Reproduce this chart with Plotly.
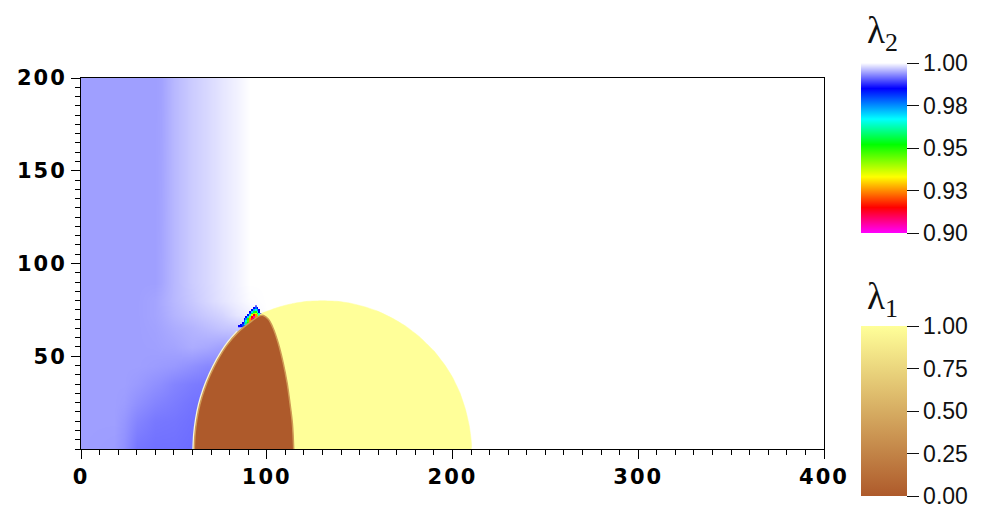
import plotly.graph_objects as go

# lambda_2 field (rows = field_y, columns = field_x)
field_x = [0, 18, 23, 30, 40, 43, 50, 60, 68, 76, 84, 91, 100, 400]
field_y = [0, 15, 25, 35, 45, 55, 65, 72, 80, 90, 200]
field_z = [
    [.99435, .99418, .99347, .99190, .99159, .99159, .99159, .99135, .99135, .99135, .99135, .99135, 1.0, 1.0],
    [.99435, .99435, .99382, .99276, .99206, .99200, .99190, .99159, .99159, .99159, .99159, .99159, 1.0, 1.0],
    [.99435, .99435, .99418, .99347, .99276, .99260, .99229, .99182, .99159, .99159, .99159, .99159, 1.0, 1.0],
    [.99435, .99435, .99435, .99406, .99347, .99330, .99276, .99229, .99206, .99206, .99206, .99206, 1.0, 1.0],
    [.99435, .99435, .99435, .99435, .99418, .99410, .99394, .99347, .99300, .99300, .99300, .99300, 1.0, 1.0],
    [.99435, .99435, .99435, .99435, .99441, .99450, .99465, .99512, .99488, .99441, .99441, .99441, 1.0, 1.0],
    [.99435, .99435, .99435, .99435, .99453, .99470, .99512, .99559, .99606, .99653, .99676, .99676, 1.0, 1.0],
    [.99435, .99435, .99435, .99435, .99465, .99490, .99559, .99629, .99688, .99747, .99853, .99912, 1.0, 1.0],
    [.99435, .99435, .99435, .99435, .99465, .99500, .99582, .99676, .99759, .99841, .99912, .99982, 1.0, 1.0],
    [.99435, .99435, .99435, .99435, .99435, .99470, .99582, .99700, .99770, .99853, .99924, 1.0, 1.0, 1.0],
    [.99435, .99435, .99435, .99435, .99435, .99450, .99582, .99700, .99770, .99853, .99924, 1.0, 1.0, 1.0],
]

# small rainbow wedge above the tip of the bubble (columns 84..97, rows 66..77)
wedge_x = list(range(84, 98))
wedge_y = list(range(66, 78))
N = None
wedge_z = [
    [N, .985, .985, .980, .980, N, N, N, N, N, N, N, N, N],
    [N, N, .985, .980, .970, .970, .975, N, N, N, N, N, N, N],
    [N, N, N, .985, .975, .960, .950, .950, .960, N, N, N, N, N],
    [N, N, N, N, .980, .965, .945, .925, .925, .940, .960, N, N, N],
    [N, N, N, N, .985, .975, .950, .925, .910, .915, .940, .960, N, N],
    [N, N, N, N, N, .985, .970, .940, .915, .905, .925, .950, .970, N],
    [N, N, N, N, N, N, .985, .965, .935, .915, .925, .940, .965, .985],
    [N, N, N, N, N, N, N, .980, .955, .940, .935, .950, .965, .985],
    [N, N, N, N, N, N, N, .985, .970, .955, .950, .965, .985, N],
    [N, N, N, N, N, N, N, N, .985, .972, .965, .975, .985, N],
    [N, N, N, N, N, N, N, N, N, .985, .978, .985, N, N],
    [N, N, N, N, N, N, N, N, N, N, .990, N, N, N],
]

# lambda_1 = 1 region (yellow): outer arc from the tip to the axis
arc_x = [96.4, 100, 105, 110, 115, 122, 130, 138, 145, 153, 160, 168, 175, 182, 190, 196, 200, 204, 207, 209, 210]
arc_y = [72.6, 74.2, 76.0, 77.5, 78.6, 79.6, 79.9, 79.6, 78.6, 76.6, 74.2, 70.3, 66.1, 60.7, 52.9, 45.1, 38.7, 30.3, 21.3, 12.6, 0]

# lambda_1 = 0 region (brown): left interface bottom to tip, right interface tip to bottom
left_x = [61.0, 61.4, 62.4, 64.0, 66.4, 69.6, 73.6, 78.6, 84.6, 90.6, 96.4]
left_y = [0, 8, 16, 24, 32, 40, 48, 56, 63, 68, 71.9]
right_x = [98.2, 100.9, 103.5, 106.2, 108.9, 111, 112.5, 113.8, 114.5]
right_y = [72, 69.9, 65, 57, 46.2, 35.4, 24.6, 13.8, 0]

# samples that carry the lambda_1 colour bar
lambda1_x = [90, 150]
lambda1_y = [30, 30]
lambda1_v = [0, 1]

x_major = [0, 100, 200, 300, 400]
y_major = [50, 100, 150, 200]
lam2_ticks = [0.9, 0.925, 0.95, 0.975, 1.0]
lam2_text = ["0.90", "0.93", "0.95", "0.98", "1.00"]
lam1_ticks = [0, 0.25, 0.5, 0.75, 1.0]
lam1_text = ["0.00", "0.25", "0.50", "0.75", "1.00"]

W, H = 1003, 512
L, R, T, B = 81, 824, 78, 449
PW, PH = R - L, B - T
tickfont = dict(family="DejaVu Sans", size=21, color="#000000", weight=700)
barfont = dict(family="Liberation Sans", size=23, color="#111111")
titlefont = dict(family="Liberation Serif", size=37, color="#111111")

fig = go.Figure()
fig.add_trace(go.Heatmap(x=field_x, y=field_y, z=field_z, coloraxis="coloraxis", zsmooth="best", hoverinfo="skip"))
fig.add_trace(go.Heatmap(x=wedge_x, y=wedge_y, z=wedge_z, coloraxis="coloraxis", zsmooth=False, hoverongaps=False))
fig.add_trace(go.Scatter(x=arc_x + [114.5, 96.4], y=arc_y + [0, 72.6], mode="lines", fill="toself",
                         fillcolor="#ffff99", line=dict(color="#ffff99", width=0.5, shape="spline", smoothing=0.3),
                         hoverinfo="skip"))
fig.add_trace(go.Scatter(x=left_x[:-2], y=left_y[:-2], mode="lines",
                         line=dict(color="#fbf7d8", width=4, shape="spline", smoothing=1), hoverinfo="skip"))
fig.add_trace(go.Scatter(x=left_x + right_x, y=left_y + right_y, mode="lines", fill="toself",
                         fillcolor="#ae5a2b", line=dict(color="#cf9a55", width=1.5, shape="spline", smoothing=1),
                         hoverinfo="skip"))
fig.add_trace(go.Scatter(x=lambda1_x, y=lambda1_y, mode="markers", hoverinfo="skip",
                         marker=dict(size=1, color=lambda1_v, coloraxis="coloraxis2")))


def bar(top_px, vals, text):
    return dict(x=(861 - L) / PW, xanchor="left", y=(B - top_px) / PH, yanchor="top", len=170, lenmode="pixels",
                thickness=46, thicknessmode="pixels", xpad=0, ypad=0, outlinewidth=0,
                ticks="outside", ticklen=12, tickcolor="#111111", tickwidth=1,
                tickvals=vals, ticktext=text, tickfont=barfont)


fig.update_layout(
    width=W, height=H, showlegend=False,
    margin=dict(l=L, r=W - R, t=T, b=H - B, autoexpand=False),
    paper_bgcolor="white", plot_bgcolor="white",
    xaxis=dict(range=[0, 400], tickvals=x_major, ticks="outside", ticklen=9,
               tickwidth=1, tickcolor="black", tickfont=tickfont, showgrid=False, zeroline=False,
               showline=True, linecolor="black", linewidth=1, mirror=True,
               minor=dict(dtick=10, tick0=0, ticks="outside", ticklen=5, tickwidth=1, tickcolor="black", showgrid=False)),
    yaxis=dict(range=[0, 200], tickvals=y_major, ticks="outside", ticklen=9,
               tickwidth=1, tickcolor="black", tickfont=tickfont, showgrid=False, zeroline=False,
               showline=True, linecolor="black", linewidth=1, mirror=True,
               minor=dict(dtick=5, tick0=0, ticks="outside", ticklen=5, tickwidth=1, tickcolor="black", showgrid=False)),
    coloraxis=dict(
        cmin=0.9, cmax=1.0,
        colorscale=[[0, "#ff00ff"], [0.15, "#ff0000"], [0.33, "#ffff00"], [0.52, "#00ff00"],
                    [0.67, "#00ffff"], [0.85, "#0000ff"], [1, "#ffffff"]],
        colorbar=bar(63, lam2_ticks, lam2_text)),
    coloraxis2=dict(
        cmin=0, cmax=1,
        colorscale=[[0, "#ae5a2b"], [1, "#ffff99"]],
        colorbar=bar(326, lam1_ticks, lam1_text)),
    annotations=[
        dict(text="λ<sub>2</sub>", xref="paper", yref="paper", x=(882 - L) / PW, y=(B - 33) / PH,
             xanchor="center", yanchor="middle", showarrow=False, font=titlefont),
        dict(text="λ<sub>1</sub>", xref="paper", yref="paper", x=(882 - L) / PW, y=(B - 299) / PH,
             xanchor="center", yanchor="middle", showarrow=False, font=titlefont),
    ],
)
css = ("document.body.style.margin='0';"
       "var s=document.createElement('style');"
       "s.textContent='.xtick text,.ytick text{letter-spacing:2px}"
       ".colorbar .ytick text{letter-spacing:0;translate:0 -3px}';"
       "document.head.appendChild(s);")
fig.write_html("out.html", post_script=css, config=dict(displayModeBar=False))
